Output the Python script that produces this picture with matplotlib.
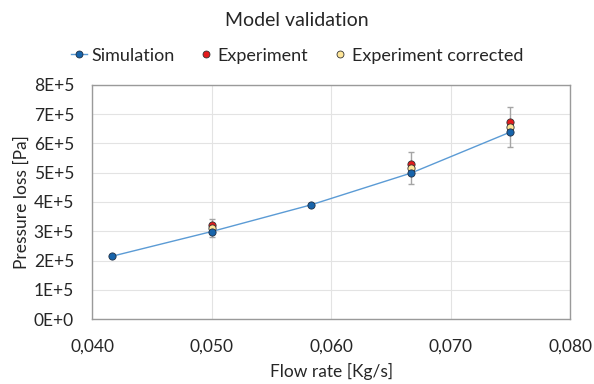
import numpy as np
import matplotlib.pyplot as plt
from matplotlib.lines import Line2D

# data
flow_sim = [0.0417, 0.0500, 0.0583, 0.0667, 0.0750]
dp_sim = [2.15e5, 2.99e5, 3.90e5, 4.99e5, 6.39e5]

flow_exp = [0.0500, 0.0667, 0.0750]
dp_exp = [3.21e5, 5.31e5, 6.74e5]
dp_corr = [3.12e5, 5.17e5, 6.56e5]
err_corr = [0.31e5, 0.54e5, 0.67e5]

x_ticks = [0.04, 0.05, 0.06, 0.07, 0.08]
y_ticks = [0, 1e5, 2e5, 3e5, 4e5, 5e5, 6e5, 7e5, 8e5]

plt.rcParams['font.family'] = ['Lato', 'DejaVu Sans']
txt = '#262626'

fig = plt.figure(figsize=(5.94, 3.84), dpi=100)
ax = fig.add_axes([0.155, 0.169, 0.805, 0.61])

ax.plot(flow_sim, dp_sim, color='#5B9BD5', lw=1, zorder=2)
ax.errorbar(flow_exp, dp_corr, yerr=err_corr, fmt='none', ecolor='#A5A5A5',
            elinewidth=1, capsize=2, capthick=1, zorder=1)
ax.plot(flow_exp, dp_exp, 'o', ms=5.2, mfc='#E41A1C', mec='#333333', mew=0.6, zorder=3)
ax.plot(flow_exp, dp_corr, 'o', ms=5.2, mfc='#FFE699', mec='#333333', mew=0.6, zorder=4)
ax.plot(flow_sim, dp_sim, 'o', ms=5.2, mfc='#1764AB', mec='#1F2F44', mew=0.6, zorder=5)

ax.set_xlim(0.04, 0.08)
ax.set_ylim(0, 8e5)
ax.set_xticks(x_ticks)
ax.set_yticks(y_ticks)
ax.set_xticklabels([('%.3f' % v).replace('.', ',') for v in x_ticks])
ax.set_yticklabels(['%dE+%d' % (v / 1e5, 5) if v > 0 else '0E+0' for v in y_ticks])
ax.tick_params(length=0, labelsize=12.5, colors=txt)
ax.tick_params(axis='x', pad=14)
ax.tick_params(axis='y', pad=13)
ax.grid(True, color='#E3E3E3', lw=0.8)
ax.set_axisbelow(True)
for s in ax.spines.values():
    s.set_color('#9A9A9A')
    s.set_linewidth(1)

ax.set_xlabel('Flow rate [Kg/s]', fontsize=12.5, color=txt, labelpad=6)
ax.set_ylabel('Pressure loss [Pa]', fontsize=12.5, color=txt, labelpad=3)
fig.suptitle('Model validation', fontsize=14, color=txt, y=0.97)

handles = [
    Line2D([], [], color='#5B9BD5', lw=1, marker='o', ms=5, mfc='#1764AB', mec='#1F2F44', mew=0.6),
    Line2D([], [], ls='none', marker='o', ms=5, mfc='#E41A1C', mec='#333333', mew=0.6),
    Line2D([], [], ls='none', marker='o', ms=5, mfc='#FFE699', mec='#333333', mew=0.6),
]
fig.legend(handles, ['Simulation', 'Experiment', 'Experiment corrected'],
           loc='center', bbox_to_anchor=(0.5, 0.855), ncol=3, frameon=False,
           fontsize=13, handlelength=0.9, handletextpad=0.2, columnspacing=1.3,
           labelcolor=txt)

fig.savefig('out.png', dpi=100)
